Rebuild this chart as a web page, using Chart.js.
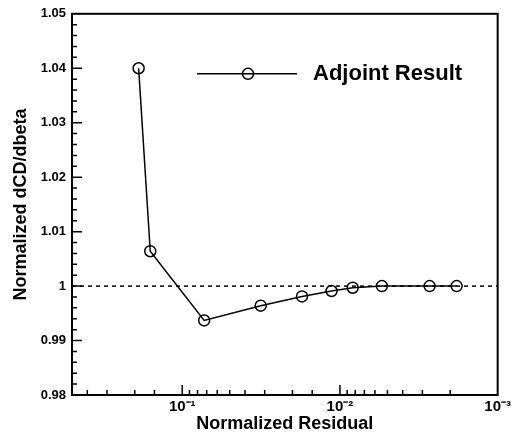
<!DOCTYPE html>
<html>
<head>
<meta charset="utf-8">
<script src="https://cdn.jsdelivr.net/npm/chart.js@4"></script>
<style>
  html, body { margin: 0; padding: 0; background: #fff; }
  #wrap { width: 514px; height: 438px; }
</style>
</head>
<body>
<div id="wrap"><canvas id="chart" width="514" height="438"></canvas></div>
<script>
// values
const residual = [0.189, 0.1595, 0.0726, 0.0318, 0.0174, 0.0113, 0.0083, 0.00542, 0.0027, 0.00182];
const dcdDbeta = [1.0400, 1.0064, 0.9937, 0.9964, 0.9981, 0.9991, 0.9997, 1.0000, 1.0000, 1.0000];

// dashed reference line at 1
const refResidual = [0.5, 0.001];
const refValue = [1, 1];

const seriesLabel = 'Adjoint Result';
const xTitle = 'Normalized Residual';
const yTitle = 'Normalized dCD/dbeta';
const xMin = 0.001, xMax = 0.5;
const yMin = 0.98, yMax = 1.05, yStep = 0.002;

const sup = { '-': '\u207B', '0': '\u2070', '1': '\u00B9', '2': '\u00B2', '3': '\u00B3',
              '4': '\u2074', '5': '\u2075', '6': '\u2076', '7': '\u2077', '8': '\u2078', '9': '\u2079' };

function isDecade(v) {
    const l = Math.log10(v);
    return Math.abs(l - Math.round(l)) < 1e-9;
}
function isMajorY(v) {
    return Math.abs(Math.round(v * 100) - v * 100) < 1e-6;
}

const font = 'Liberation Sans, Arial, sans-serif';

// box, inward ticks and the legend
const framePlugin = {
    id: 'frame',
    afterDatasetsDraw(chart) {
        const { ctx, chartArea: a, scales: { x, y } } = chart;
        ctx.save();
        ctx.strokeStyle = '#000';
        ctx.lineWidth = 1.5;
        ctx.beginPath();
        x.ticks.forEach(t => {
            const px = x.getPixelForValue(t.value);
            if (px < a.left + 1 || px > a.right - 1) return;
            const len = isDecade(t.value) ? 10 : 5;
            ctx.moveTo(px, a.bottom);
            ctx.lineTo(px, a.bottom - len);
        });
        y.ticks.forEach(t => {
            const py = y.getPixelForValue(t.value);
            if (py < a.top + 1 || py > a.bottom - 1) return;
            const len = isMajorY(t.value) ? 10 : 5;
            ctx.moveTo(a.left, py);
            ctx.lineTo(a.left + len, py);
        });
        ctx.stroke();

        ctx.lineWidth = 2;
        ctx.strokeRect(a.left, a.top, a.right - a.left, a.bottom - a.top);

        // legend
        const ds = chart.data.datasets[0];
        const ly = a.top + 60;
        const lx = a.left + 125;
        ctx.lineWidth = ds.borderWidth;
        ctx.beginPath();
        ctx.moveTo(lx, ly);
        ctx.lineTo(lx + 100, ly);
        ctx.stroke();
        ctx.lineWidth = ds.pointBorderWidth;
        ctx.beginPath();
        ctx.arc(lx + 51, ly, ds.pointRadius, 0, Math.PI * 2);
        ctx.stroke();
        ctx.fillStyle = '#000';
        ctx.font = 'bold 22px ' + font;
        ctx.textBaseline = 'middle';
        ctx.fillText(ds.label, lx + 116, ly);
        ctx.restore();
    }
};

const ctx = document.getElementById('chart').getContext('2d');
new Chart(ctx, {
    type: 'line',
    data: {
        datasets: [{
            label: seriesLabel,
            data: residual.map((r, i) => ({ x: r, y: dcdDbeta[i] })),
            borderColor: '#000',
            borderWidth: 1.5,
            tension: 0,
            pointRadius: 5.5,
            pointBorderWidth: 1.5,
            pointBorderColor: '#000',
            pointBackgroundColor: 'rgba(0,0,0,0)'
        }, {
            label: 'ref',
            data: refResidual.map((r, i) => ({ x: r, y: refValue[i] })),
            borderColor: '#000',
            borderWidth: 1.5,
            borderDash: [4, 4],
            pointRadius: 0
        }]
    },
    options: {
        responsive: false,
        animation: false,
        layout: { padding: { top: 9, right: 15, left: 0, bottom: 0 } },
        plugins: { legend: { display: false }, tooltip: { enabled: false } },
        scales: {
            x: {
                type: 'logarithmic',
                reverse: true,
                min: xMin,
                max: xMax,
                grid: { display: false, drawTicks: false },
                border: { display: false },
                ticks: {
                    autoSkip: false,
                    maxRotation: 0,
                    padding: 3,
                    color: '#000',
                    font: { family: font, size: 15, weight: 'bold' },
                    callback: v => isDecade(v)
                        ? '10' + String(Math.round(Math.log10(v))).split('').map(c => sup[c]).join('')
                        : ''
                },
                title: {
                    display: true,
                    text: xTitle,
                    color: '#000',
                    font: { family: font, size: 18, weight: 'bold' },
                    padding: { top: 0, bottom: 3 }
                },
                afterFit: s => { s.height = 43; }
            },
            y: {
                min: yMin,
                max: yMax,
                grid: { display: false, drawTicks: false },
                border: { display: false },
                ticks: {
                    stepSize: yStep,
                    autoSkip: false,
                    padding: 6,
                    color: '#000',
                    font: { family: font, size: 13, weight: 'bold' },
                    callback: v => isMajorY(v) ? String(Number(v.toFixed(2))) : ''
                },
                title: {
                    display: true,
                    text: yTitle,
                    color: '#000',
                    font: { family: font, size: 18, weight: 'bold' },
                    padding: { top: 10, bottom: 0 }
                },
                afterFit: s => { s.width = 72; }
            }
        }
    },
    plugins: [framePlugin]
});
</script>
</body>
</html>
